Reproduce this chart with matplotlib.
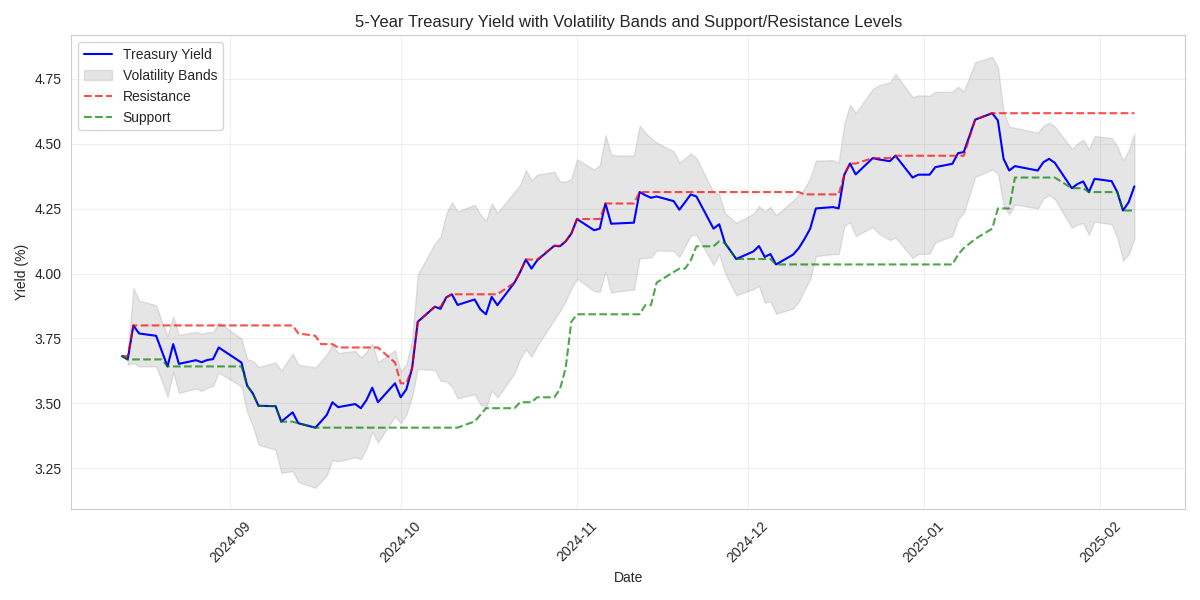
import numpy as np
import pandas as pd
import matplotlib
matplotlib.use('Agg')
import matplotlib.pyplot as plt
import matplotlib.dates as mdates
import seaborn as sns

# trading days shown in the chart (market holidays dropped)
holidays = ['2024-09-02', '2024-11-28', '2024-12-25', '2025-01-01', '2025-01-09', '2025-01-20']
dates = pd.bdate_range('2024-08-13', '2025-02-07')
dates = dates[~dates.isin(pd.to_datetime(holidays))]

# 5-year yield (%)
yield_5y = [
    3.682, 3.669, 3.800, 3.769, 3.760, 3.701, 3.642, 3.728, 3.652, 3.666, 3.658, 3.667, 3.670, 3.715,  # Aug
    3.657, 3.568, 3.538, 3.490, 3.489, 3.429, 3.447, 3.465, 3.423, 3.406, 3.430, 3.455, 3.504, 3.485,
    3.497, 3.481, 3.513, 3.560, 3.504, 3.577,  # Sep
    3.523, 3.554, 3.635, 3.814, 3.872, 3.864, 3.908, 3.920, 3.879, 3.900, 3.862, 3.843, 3.910, 3.878,
    3.965, 4.006, 4.054, 4.019, 4.051, 4.107, 4.105, 4.124, 4.154,  # Oct
    4.210, 4.167, 4.173, 4.270, 4.192, 4.193, 4.196, 4.314, 4.302, 4.292, 4.297, 4.279, 4.246, 4.275,
    4.305, 4.297, 4.173, 4.190, 4.118, 4.056,  # Nov
    4.085, 4.106, 4.064, 4.075, 4.035, 4.073, 4.098, 4.133, 4.173, 4.251, 4.256, 4.251, 4.381, 4.424,
    4.382, 4.445, 4.440, 4.433, 4.454, 4.370, 4.381,  # Dec
    4.381, 4.410, 4.423, 4.464, 4.468, 4.593, 4.618, 4.590, 4.442, 4.397, 4.414, 4.397, 4.429, 4.442,
    4.427, 4.329, 4.345, 4.355, 4.314, 4.365,  # Jan
    4.356, 4.314, 4.243, 4.275, 4.336,  # Feb
]

# half width of the volatility band around the yield
band_width = [
    np.nan, 0.020, 0.145, 0.127, 0.118, 0.115, 0.117, 0.107, 0.112, 0.109, 0.110, 0.107, 0.104, 0.097,
    0.092, 0.102, 0.125, 0.150, 0.168, 0.197, 0.212, 0.226, 0.226, 0.232, 0.232, 0.233, 0.222, 0.209,
    0.205, 0.196, 0.186, 0.170, 0.155, 0.127,
    0.100, 0.097, 0.110, 0.182, 0.244, 0.277, 0.324, 0.355, 0.360, 0.365, 0.366, 0.360, 0.361, 0.356,
    0.350, 0.335, 0.345, 0.340, 0.330, 0.285, 0.250, 0.230, 0.212,
    0.230, 0.234, 0.244, 0.263, 0.267, 0.262, 0.258, 0.256, 0.241, 0.230, 0.208, 0.192, 0.182, 0.170,
    0.158, 0.148, 0.140, 0.116, 0.115, 0.140,
    0.145, 0.154, 0.176, 0.182, 0.190, 0.208, 0.206, 0.195, 0.195, 0.184, 0.181, 0.176, 0.198, 0.226,
    0.237, 0.266, 0.285, 0.304, 0.315, 0.310, 0.306,
    0.304, 0.290, 0.278, 0.256, 0.234, 0.221, 0.217, 0.205, 0.180, 0.169, 0.148, 0.146, 0.140, 0.140,
    0.140, 0.152, 0.156, 0.161, 0.165, 0.165,
    0.166, 0.176, 0.193, 0.201, 0.203,
]

resistance = [
    3.682, 3.682, 3.800, 3.800, 3.800, 3.800, 3.800, 3.800, 3.800, 3.800, 3.800, 3.800, 3.800, 3.800,
    3.800, 3.800, 3.800, 3.800, 3.800, 3.800, 3.800, 3.800, 3.769, 3.760, 3.728, 3.728, 3.728, 3.715,
    3.715, 3.715, 3.715, 3.715, 3.715, 3.657,
    3.577, 3.577, 3.635, 3.814, 3.872, 3.872, 3.908, 3.920, 3.920, 3.920, 3.920, 3.920, 3.920, 3.920,
    3.965, 4.006, 4.054, 4.054, 4.054, 4.107, 4.107, 4.124, 4.154,
    4.210, 4.210, 4.210, 4.270, 4.270, 4.270, 4.270, 4.314, 4.314, 4.314, 4.314, 4.314, 4.314, 4.314,
    4.314, 4.314, 4.314, 4.314, 4.314, 4.314,
    4.314, 4.314, 4.314, 4.314, 4.314, 4.314, 4.314, 4.305, 4.305, 4.305, 4.305, 4.305, 4.381, 4.424,
    4.424, 4.445, 4.445, 4.445, 4.454, 4.454, 4.454,
    4.454, 4.454, 4.454, 4.454, 4.454, 4.593, 4.618, 4.618, 4.618, 4.618, 4.618, 4.618, 4.618, 4.618,
    4.618, 4.618, 4.618, 4.618, 4.618, 4.618,
    4.618, 4.618, 4.618, 4.618, 4.618,
]

support = [
    3.682, 3.669, 3.669, 3.669, 3.669, 3.669, 3.642, 3.642, 3.642, 3.642, 3.642, 3.642, 3.642, 3.642,
    3.642, 3.568, 3.538, 3.490, 3.489, 3.429, 3.429, 3.429, 3.423, 3.406, 3.406, 3.406, 3.406, 3.406,
    3.406, 3.406, 3.406, 3.406, 3.406, 3.406,
    3.406, 3.406, 3.406, 3.406, 3.406, 3.406, 3.406, 3.406, 3.406, 3.430, 3.455, 3.481, 3.481, 3.481,
    3.481, 3.504, 3.504, 3.504, 3.523, 3.523, 3.554, 3.635, 3.814,
    3.843, 3.843, 3.843, 3.843, 3.843, 3.843, 3.843, 3.843, 3.878, 3.878, 3.965, 4.006, 4.019, 4.019,
    4.051, 4.105, 4.105, 4.124, 4.118, 4.056,
    4.056, 4.056, 4.056, 4.056, 4.035, 4.035, 4.035, 4.035, 4.035, 4.035, 4.035, 4.035, 4.035, 4.035,
    4.035, 4.035, 4.035, 4.035, 4.035, 4.035, 4.035,
    4.035, 4.035, 4.035, 4.073, 4.098, 4.133, 4.173, 4.251, 4.251, 4.251, 4.370, 4.370, 4.370, 4.370,
    4.370, 4.329, 4.329, 4.329, 4.314, 4.314,
    4.314, 4.314, 4.243, 4.243, 4.243,
]

yld = np.array(yield_5y)
width = np.array(band_width)

sns.set_style('whitegrid')
plt.rcParams['font.family'] = ['Liberation Sans', 'DejaVu Sans']

fig, ax = plt.subplots(figsize=(12, 6), dpi=100)

ax.plot(dates, yld, color='blue', linewidth=1.5, label='Treasury Yield')
ax.fill_between(dates, yld - width, yld + width, color='gray', alpha=0.2, label='Volatility Bands')
ax.plot(dates, resistance, 'r--', alpha=0.7, linewidth=1.5, label='Resistance')
ax.plot(dates, support, 'g--', alpha=0.7, linewidth=1.5, label='Support')

ax.set_title('5-Year Treasury Yield with Volatility Bands and Support/Resistance Levels', fontsize=12)
ax.set_xlabel('Date')
ax.set_ylabel('Yield (%)')
ax.legend(loc='upper left')
ax.grid(True, alpha=0.3)

ax.xaxis.set_major_locator(mdates.MonthLocator())
ax.xaxis.set_major_formatter(mdates.DateFormatter('%Y-%m'))
plt.xticks(rotation=45)

plt.tight_layout()
plt.savefig('out.png', dpi=100)
